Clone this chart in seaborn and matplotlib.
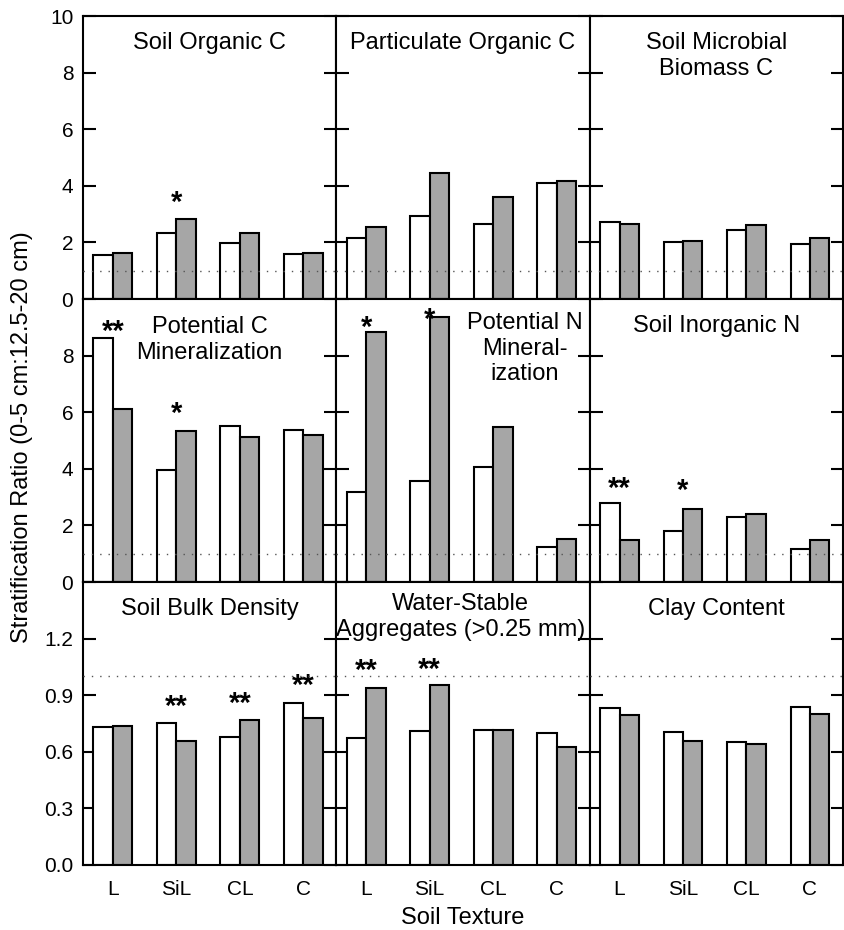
import matplotlib
matplotlib.use("Agg")
import matplotlib.pyplot as plt
import seaborn as sns
import pandas as pd

# ---------------- data ----------------
textures = ["L", "SiL", "CL", "C"]
treatments = ["A", "B"]   # white bars, gray bars

soc_white = [1.56, 2.33, 1.97, 1.58]
soc_gray = [1.62, 2.81, 2.32, 1.62]
poc_white = [2.15, 2.94, 2.65, 4.09]
poc_gray = [2.53, 4.46, 3.62, 4.17]
smbc_white = [2.73, 2.02, 2.45, 1.96]
smbc_gray = [2.65, 2.06, 2.61, 2.14]
pcm_white = [8.63, 3.96, 5.50, 5.38]
pcm_gray = [6.12, 5.33, 5.12, 5.18]
pnm_white = [3.17, 3.58, 4.05, 1.22]
pnm_gray = [8.84, 9.37, 5.46, 1.51]
sin_white = [2.78, 1.81, 2.30, 1.16]
sin_gray = [1.49, 2.58, 2.40, 1.49]
sbd_white = [0.730, 0.753, 0.677, 0.859]
sbd_gray = [0.739, 0.655, 0.766, 0.780]
wsa_white = [0.672, 0.709, 0.713, 0.699]
wsa_gray = [0.936, 0.954, 0.718, 0.625]
clay_white = [0.831, 0.704, 0.651, 0.836]
clay_gray = [0.796, 0.655, 0.642, 0.801]

titles = ["Soil Organic C", "Particulate Organic C", "Soil Microbial\nBiomass C",
          "Potential C\nMineralization", "Potential N\nMineral-\nization", "Soil Inorganic N",
          "Soil Bulk Density", "Water-Stable\nAggregates (>0.25 mm)", "Clay Content"]

# significance marks: (texture index, y level, label)
soc_sig = [(1, 3.7, "*")]
poc_sig = []
smbc_sig = []
pcm_sig = [(0, 9.15, "**"), (1, 6.24, "*")]
pnm_sig = [(0, 9.3, "*"), (1, 9.55, "*")]
sin_sig = [(0, 3.6, "**"), (1, 3.52, "*")]
sbd_sig = [(1, 0.885, "**"), (2, 0.898, "**"), (3, 0.994, "**")]
wsa_sig = [(0, 1.073, "**"), (1, 1.082, "**")]
clay_sig = []

row_ylims = [10, 10, 1.5]
row_ticks = [[0, 2, 4, 6, 8, 10], [0, 2, 4, 6, 8, 10], [0, 0.3, 0.6, 0.9, 1.2, 1.5]]
row_ticklabels = [["0", "2", "4", "6", "8", "10"], ["0", "2", "4", "6", "8", ""],
                  ["0.0", "0.3", "0.6", "0.9", "1.2", ""]]
ref_line = 1.0
ylabel = "Stratification Ratio (0-5 cm:12.5-20 cm)"
xlabel = "Soil Texture"

panels = [
    (soc_white, soc_gray, soc_sig), (poc_white, poc_gray, poc_sig), (smbc_white, smbc_gray, smbc_sig),
    (pcm_white, pcm_gray, pcm_sig), (pnm_white, pnm_gray, pnm_sig), (sin_white, sin_gray, sin_sig),
    (sbd_white, sbd_gray, sbd_sig), (wsa_white, wsa_gray, wsa_sig), (clay_white, clay_gray, clay_sig),
]

# ---------------- style ----------------
sns.set_theme(style="ticks")
plt.rcParams["font.family"] = ["Liberation Sans", "DejaVu Sans"]
plt.rcParams["text.color"] = "black"
plt.rcParams["axes.labelcolor"] = "black"
plt.rcParams["xtick.color"] = "black"
plt.rcParams["ytick.color"] = "black"
FONT = 17
TICKF = 15
gray_fill = "#a6a6a6"

title_xpos = [0.5, 0.5, 0.5, 0.5, 0.745, 0.5, 0.5, 0.49, 0.5]
title_drop_px = [16, 16, 16, 17, 13, 16, 16, 11, 16]

fig = plt.figure(figsize=(8.44, 9.30), dpi=100)
axes = fig.subplots(3, 3, gridspec_kw=dict(hspace=0, wspace=0))
fig.subplots_adjust(left=83 / 844, right=843 / 844, top=1 - 16 / 930, bottom=1 - 865 / 930)

for i, ax in enumerate(axes.flat):
    r, c = divmod(i, 3)
    white, gray, sig = panels[i]
    df = pd.DataFrame({
        "texture": textures * 2,
        "trt": [treatments[0]] * 4 + [treatments[1]] * 4,
        "value": list(white) + list(gray),
    })
    sns.barplot(data=df, x="texture", y="value", hue="trt", order=textures,
                hue_order=treatments, palette=["white", gray_fill], width=0.61,
                gap=0, edgecolor="black", linewidth=1.5, legend=False, ax=ax,
                saturation=1, errorbar=None)
    ax.axhline(ref_line, linestyle=(0, (1, 5)), color="#555555", lw=1.0, zorder=5)
    for (gi, yv, lab) in sig:
        ax.annotate(lab, xy=(gi, yv), xytext=(0, -12), textcoords="offset points",
                    ha="center", va="baseline", fontsize=21, fontweight="bold", color="black")
    ax.annotate(titles[i], xy=(title_xpos[i], 1), xycoords="axes fraction",
                xytext=(0, -title_drop_px[i] * 0.72), textcoords="offset points",
                ha="center", va="top", fontsize=FONT, linespacing=1.22, color="black")
    ax.set_xlim(-0.47, 3.52)
    ax.set_ylim(0, row_ylims[r])
    ax.set_yticks(row_ticks[r])
    ax.set_xlabel("")
    ax.set_ylabel("")
    for sp in ax.spines.values():
        sp.set_visible(True)
        sp.set_linewidth(1.5)
        sp.set_color("black")
    ax.tick_params(axis="y", which="both", direction="in", left=True, right=True,
                   length=9, width=1.5, labelsize=TICKF, pad=7, colors="black")
    ax.tick_params(axis="x", length=0, labelsize=TICKF, pad=11, colors="black")
    if c == 0:
        ax.set_yticklabels(row_ticklabels[r])
    else:
        ax.tick_params(axis="y", labelleft=False)
    if r == 2:
        ax.set_xticks(range(4))
        ax.set_xticklabels(textures)
    else:
        ax.tick_params(axis="x", labelbottom=False)

fig.text(22.5 / 844, 1 - 437 / 930, ylabel, rotation=90, ha="center", va="center",
         fontsize=FONT, color="black")
fig.text(463 / 844, 1 - 918 / 930, xlabel, ha="center", va="center", fontsize=FONT, color="black")

fig.savefig("out.png", dpi=100)
